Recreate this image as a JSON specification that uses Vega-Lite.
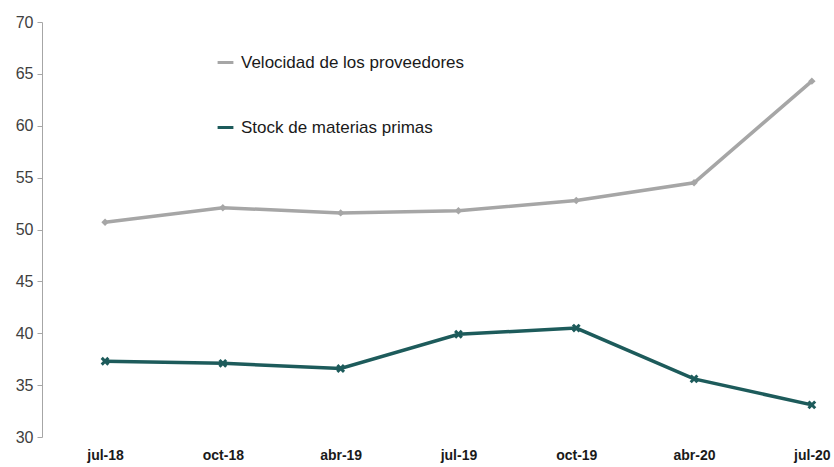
{
  "$schema": "https://vega.github.io/schema/vega-lite/v6.json",
  "width": 792,
  "height": 415,
  "autosize": {"type": "none"},
  "padding": {"left": 42, "top": 22, "right": 0, "bottom": 30},
  "background": "white",
  "config": {
    "view": {"stroke": null},
    "font": "Liberation Sans"
  },
  "data": {
    "values": [
      {"fecha": "jul-18", "serie": "Velocidad de los proveedores", "valor": 50.7},
      {"fecha": "oct-18", "serie": "Velocidad de los proveedores", "valor": 52.1},
      {"fecha": "abr-19", "serie": "Velocidad de los proveedores", "valor": 51.6},
      {"fecha": "jul-19", "serie": "Velocidad de los proveedores", "valor": 51.8},
      {"fecha": "oct-19", "serie": "Velocidad de los proveedores", "valor": 52.8},
      {"fecha": "abr-20", "serie": "Velocidad de los proveedores", "valor": 54.5},
      {"fecha": "jul-20", "serie": "Velocidad de los proveedores", "valor": 64.3},
      {"fecha": "jul-18", "serie": "Stock de materias primas", "valor": 37.3},
      {"fecha": "oct-18", "serie": "Stock de materias primas", "valor": 37.1},
      {"fecha": "abr-19", "serie": "Stock de materias primas", "valor": 36.6},
      {"fecha": "jul-19", "serie": "Stock de materias primas", "valor": 39.9},
      {"fecha": "oct-19", "serie": "Stock de materias primas", "valor": 40.5},
      {"fecha": "abr-20", "serie": "Stock de materias primas", "valor": 35.6},
      {"fecha": "jul-20", "serie": "Stock de materias primas", "valor": 33.1}
    ]
  },
  "encoding": {
    "x": {
      "field": "fecha",
      "type": "ordinal",
      "sort": null,
      "scale": {"type": "point", "padding": 0.3617, "align": 0.74},
      "axis": {
        "title": null,
        "domain": false,
        "ticks": false,
        "labelAngle": 0,
        "labelFontWeight": "bold",
        "labelFontSize": 14,
        "labelColor": "#1a1a1a",
        "labelPadding": 11
      }
    },
    "y": {
      "field": "valor",
      "type": "quantitative",
      "scale": {"domain": [30, 70], "nice": false, "zero": false},
      "axis": {
        "title": null,
        "grid": false,
        "values": [30, 35, 40, 45, 50, 55, 60, 65, 70],
        "domainColor": "#a6a6a6",
        "tickColor": "#a6a6a6",
        "tickSize": 5,
        "labelPadding": 4,
        "labelFontSize": 16,
        "labelColor": "#404040"
      }
    }
  },
  "layer": [
    {
      "mark": {"type": "line", "strokeWidth": 3.5},
      "encoding": {
        "color": {
          "field": "serie",
          "type": "nominal",
          "scale": {
            "domain": ["Velocidad de los proveedores", "Stock de materias primas"],
            "range": ["#a6a6a6", "#1d5b5b"]
          },
          "legend": {
            "title": null,
            "orient": "none",
            "legendX": 174,
            "legendY": 31,
            "rowPadding": 47,
            "symbolType": "M-1,0H1",
            "symbolStrokeWidth": 3,
            "symbolSize": 250,
            "labelFontSize": 17,
            "labelColor": "#1a1a1a",
            "labelOffset": 6,
            "labelLimit": 0
          }
        }
      }
    },
    {
      "transform": [{"filter": "datum.serie === 'Velocidad de los proveedores'"}],
      "mark": {"type": "point", "filled": true, "shape": "diamond", "size": 55, "opacity": 1, "color": "#a6a6a6"}
    },
    {
      "transform": [{"filter": "datum.serie === 'Stock de materias primas'"}],
      "mark": {"type": "point", "filled": false, "shape": "M-1,-1L1,1M-1,1L1,-1", "size": 45, "opacity": 1, "strokeWidth": 3, "color": "#1d5b5b"}
    }
  ]
}
